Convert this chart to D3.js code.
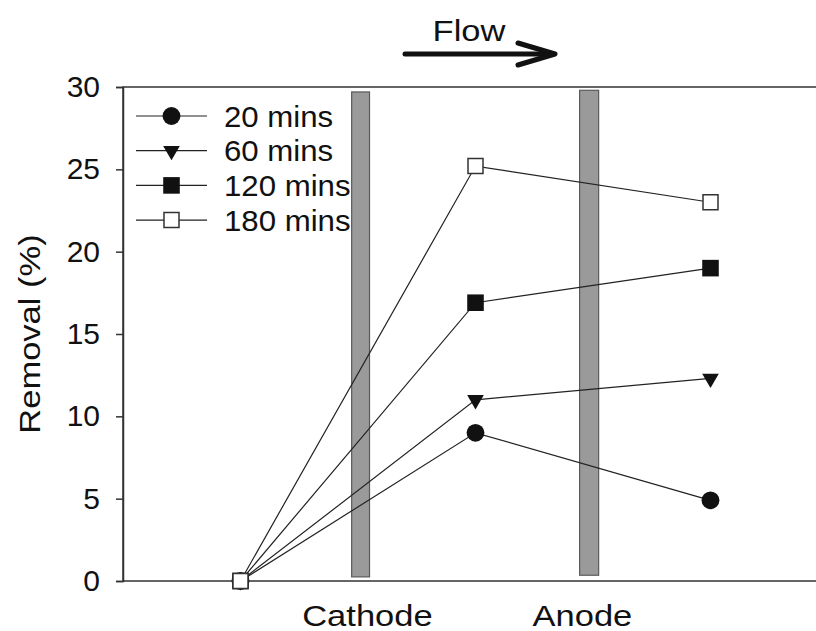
<!DOCTYPE html>
<html>
<head>
<meta charset="utf-8">
<script src="https://cdn.jsdelivr.net/npm/d3@7"></script>
<style>
  body { margin: 0; background: #ffffff; }
  svg text { font-family: "Liberation Sans", Arial, sans-serif; fill: #111; }
</style>
</head>
<body>
<div id="chart"></div>
<script>
// positions along the cell (1 = inlet, 2 = between electrodes, 3 = outlet)
const positions = [1, 2, 3];
const seriesNames = ['20 mins', '60 mins', '120 mins', '180 mins'];
const removal20 = [0, 9.0, 4.9];
const removal60 = [0, 11.0, 12.3];
const removal120 = [0, 16.9, 19.0];
const removal180 = [0, 25.2, 23.0];
const yTicks = [0, 5, 10, 15, 20, 25, 30];

// electrode bars
const electrodes = ['Cathode', 'Anode'];
const electrodeLeft = [1.473, 2.443];
const electrodeRight = [1.549, 2.524];
const electrodeTop = [29.7, 29.8];
const electrodeBottom = [0.25, 0.35];
const electrodeLabelX = [1.54, 2.455];

const width = 816, height = 631;
const margin = { left: 123, top: 87, bottom: 50 };
const plotRight = 828;
const stretch = 1.15; // the original lettering is wider than Arial

const svg = d3.select('#chart')
  .append('svg')
  .attr('width', width)
  .attr('height', height);

const x = d3.scaleLinear().domain([0.5, 3.5]).range([margin.left, plotRight]);
const y = d3.scaleLinear().domain([0, 30]).range([height - margin.bottom, margin.top]);

// frame (right side runs off the picture)
svg.append('rect')
  .attr('x', x(0.5))
  .attr('y', y(30))
  .attr('width', x(3.5) - x(0.5))
  .attr('height', y(0) - y(30))
  .attr('fill', 'none')
  .attr('stroke', '#333')
  .attr('stroke-width', 1.5);

// y axis
const yAxis = svg.append('g')
  .attr('transform', `translate(${x(0.5)},0)`)
  .call(d3.axisLeft(y).tickValues(yTicks).tickSize(7).tickPadding(16));
yAxis.select('.domain').attr('stroke', '#333').attr('stroke-width', 1.5);
yAxis.selectAll('.tick line').attr('stroke', '#333').attr('stroke-width', 1.5);
yAxis.selectAll('.tick text')
  .attr('font-size', '30px')
  .attr('font-family', '"Liberation Sans", Arial, sans-serif')
  .attr('fill', '#111');

svg.append('text')
  .attr('transform', `translate(40,${(y(0) + y(30)) / 2}) rotate(-90) scale(${stretch},1)`)
  .attr('text-anchor', 'middle')
  .attr('font-size', '30px')
  .text('Removal (%)');

// electrodes
electrodes.forEach(function(name, i) {
  svg.append('rect')
    .attr('x', x(electrodeLeft[i]))
    .attr('y', y(electrodeTop[i]))
    .attr('width', x(electrodeRight[i]) - x(electrodeLeft[i]))
    .attr('height', y(electrodeBottom[i]) - y(electrodeTop[i]))
    .attr('fill', '#9a9a9a')
    .attr('stroke', '#5a5a5a')
    .attr('stroke-width', 1.2);

  svg.append('text')
    .attr('transform', `translate(${x(electrodeLabelX[i])},626) scale(${stretch},1)`)
    .attr('text-anchor', 'middle')
    .attr('font-size', '30px')
    .text(name);
});

// series
const symbols = [
  { type: d3.symbolCircle, size: 250, fill: '#111', stroke: 'none', rotate: 0 },
  { type: d3.symbolTriangle, size: 120, fill: '#111', stroke: 'none', rotate: 180 },
  { type: d3.symbolSquare, size: 275, fill: '#111', stroke: 'none', rotate: 0 },
  { type: d3.symbolSquare, size: 225, fill: '#fff', stroke: '#333', rotate: 0 }
];
const allSeries = [removal20, removal60, removal120, removal180];

const line = d3.line()
  .x((d, i) => x(positions[i]))
  .y(d => y(d));

allSeries.forEach(function(values) {
  svg.append('path')
    .attr('d', line(values))
    .attr('fill', 'none')
    .attr('stroke', '#222')
    .attr('stroke-width', 1.2);
});

allSeries.forEach(function(values, s) {
  const sym = symbols[s];
  values.forEach(function(v, i) {
    svg.append('path')
      .attr('d', d3.symbol().type(sym.type).size(sym.size)())
      .attr('transform', `translate(${x(positions[i])},${y(v)}) rotate(${sym.rotate})`)
      .attr('fill', sym.fill)
      .attr('stroke', sym.stroke)
      .attr('stroke-width', 1.5);
  });
});

// legend
const legend = svg.append('g');
seriesNames.forEach(function(name, s) {
  const ly = 116 + s * 34.7;
  const sym = symbols[s];
  legend.append('line')
    .attr('x1', 136).attr('x2', 207)
    .attr('y1', ly).attr('y2', ly)
    .attr('stroke', '#222')
    .attr('stroke-width', 1.2);
  legend.append('path')
    .attr('d', d3.symbol().type(sym.type).size(sym.size)())
    .attr('transform', `translate(171.5,${ly}) rotate(${sym.rotate})`)
    .attr('fill', sym.fill)
    .attr('stroke', sym.stroke)
    .attr('stroke-width', 1.5);
  legend.append('text')
    .attr('transform', `translate(224,${ly}) scale(1.04,1)`)
    .attr('dy', '0.35em')
    .attr('font-size', '30px')
    .text(name);
});

// flow arrow
svg.append('text')
  .attr('transform', `translate(469,41) scale(${stretch},1)`)
  .attr('text-anchor', 'middle')
  .attr('font-size', '30px')
  .text('Flow');

svg.append('line')
  .attr('x1', 405).attr('x2', 552)
  .attr('y1', 54).attr('y2', 54)
  .attr('stroke', '#111')
  .attr('stroke-width', 5)
  .attr('stroke-linecap', 'round');

svg.append('polyline')
  .attr('points', '518,43 555,54 518,65')
  .attr('fill', 'none')
  .attr('stroke', '#111')
  .attr('stroke-width', 5)
  .attr('stroke-linecap', 'round')
  .attr('stroke-linejoin', 'round');
</script>
</body>
</html>
